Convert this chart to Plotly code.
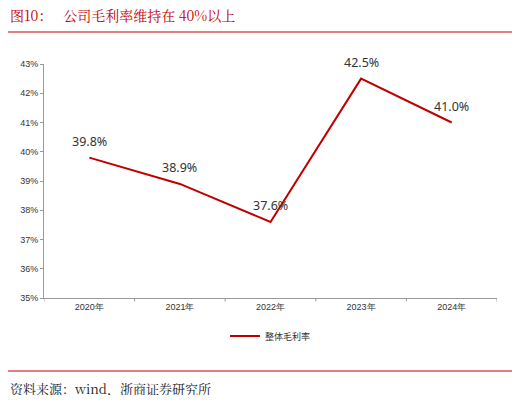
import plotly.graph_objects as go

years = ["2020年", "2021年", "2022年", "2023年", "2024年"]
margin_pct = [39.8, 38.9, 37.6, 42.5, 41.0]
labels = ["39.8%", "38.9%", "37.6%", "42.5%", "41.0%"]
y_ticks = [35, 36, 37, 38, 39, 40, 41, 42, 43]

RED = "#c00000"
OFF = 8  # page body margin
W, H = 520 - 2 * OFF, 403 - 2 * OFF
L, R, T, B = 42 - OFF, 23 - OFF, 64 - OFF, 105 - OFF
pw, ph = W - L - R, H - T - B

def px(x):
    return (x - OFF - L) / pw

def py(y):
    return (H - B - (y - OFF)) / ph

fig = go.Figure()
fig.add_trace(go.Scatter(
    x=list(range(len(years))), y=margin_pct, mode="lines", name="整体毛利率",
    line=dict(color=RED, width=2),
))
for i, (v, t) in enumerate(zip(margin_pct, labels)):
    fig.add_annotation(x=i, y=v, text=t, showarrow=False, yshift=16,
                       font=dict(size=12.5, color="#333", family="Noto Sans"))

fig.update_layout(
    width=W, height=H, margin=dict(l=L, r=R, t=T, b=B),
    plot_bgcolor="white", paper_bgcolor="white",
    font=dict(family="Noto Sans CJK SC", size=9, color="#333"),
    showlegend=True,
    legend=dict(orientation="h", x=0.5, xanchor="center", y=py(336), yanchor="middle",
                font=dict(size=9, family="Noto Sans CJK SC")),
    xaxis=dict(range=[-0.5, 4.5], tickvals=list(range(len(years))), ticktext=years,
               showgrid=False, zeroline=False, showline=True, linecolor="#999",
               ticks="", tickfont=dict(size=9, family="Arial")),
    yaxis=dict(range=[35, 43], tickvals=y_ticks, ticktext=[f"{v}%" for v in y_ticks],
               showgrid=False, zeroline=False, showline=True, linecolor="#999",
               ticks="outside", ticklen=3, tickcolor="#999", tickfont=dict(size=9, family="Arial")),
)

for i in range(len(years) + 1):
    fig.add_shape(type="line", xref="x", yref="paper", x0=i - 0.5, x1=i - 0.5, y0=0, y1=-0.015,
                  line=dict(color="#999", width=1))

for yy in (32, 371):
    fig.add_shape(type="line", xref="paper", yref="paper", x0=px(5), x1=px(514),
                  y0=py(yy), y1=py(yy), line=dict(color=RED, width=1.2))

fig.add_annotation(xref="paper", yref="paper", x=px(6), y=py(15), xanchor="left", yanchor="middle",
                   text="图10：   公司毛利率维持在 40%以上", showarrow=False,
                   font=dict(size=14, color=RED, family="Noto Serif CJK SC, Noto Sans CJK SC"))
fig.add_annotation(xref="paper", yref="paper", x=px(6), y=py(388), xanchor="left", yanchor="middle",
                   text="资料来源：wind，浙商证券研究所", showarrow=False,
                   font=dict(size=13, color="#222", family="Noto Serif CJK SC, Noto Sans CJK SC"))

fig.write_html("out.html")
